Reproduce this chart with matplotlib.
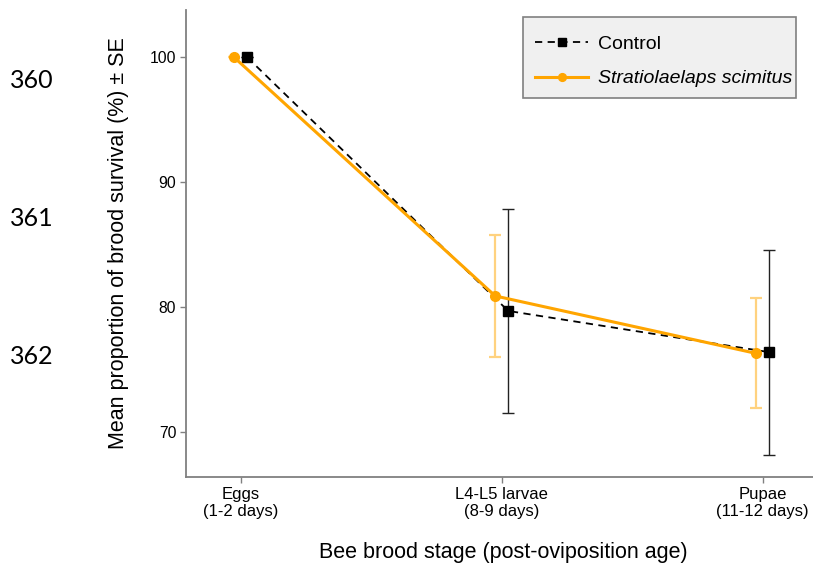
import numpy as np
import matplotlib
matplotlib.use("Agg")
import matplotlib.pyplot as plt
from matplotlib.patches import Rectangle

plt.rcParams['font.family'] = ['Liberation Sans', 'DejaVu Sans']

# values
stages = ["Eggs\n(1-2 days)", "L4-L5 larvae\n(8-9 days)", "Pupae\n(11-12 days)"]
control_mean = [100.0, 79.7, 76.4]
control_se = [0.0, 8.2, 8.2]
stratio_mean = [100.0, 80.9, 76.3]
stratio_se = [0.0, 4.9, 4.4]
line_numbers = ["360", "361", "362"]

x = np.arange(len(stages))
dodge = 0.025

W, H = 813, 564
fig = plt.figure(figsize=(W / 100, H / 100), dpi=100)
ax = fig.add_axes([186 / W, 87 / H, 634 / W, 467 / H])

# error bars first so the lines sit on top
ax.errorbar(x + dodge, control_mean, yerr=control_se, fmt='none',
            ecolor='#222222', elinewidth=1.0, capsize=4.5, capthick=1.0, zorder=2)
ax.errorbar(x - dodge, stratio_mean, yerr=stratio_se, fmt='none',
            ecolor='#FFD27F', elinewidth=1.6, capsize=4.5, capthick=1.6, zorder=2)

ax.plot(x + dodge, control_mean, color='black', linestyle=(0, (4, 3)), lw=1.3,
        marker='s', markersize=7, label='Control', zorder=3)
ax.plot(x - dodge, stratio_mean, color='#FFA500', lw=2.2,
        marker='o', markersize=7, label='Stratiolaelaps scimitus', zorder=4)

ax.set_xlim(-0.21, 2.22)
ax.set_ylim(66.4, 103.8)
ax.set_xticks(x)
ax.set_xticklabels(stages)
ax.set_yticks([70, 80, 90, 100])

for side in ['top', 'right']:
    ax.spines[side].set_visible(False)
for side in ['left', 'bottom']:
    ax.spines[side].set_color('#808080')
    ax.spines[side].set_linewidth(1.3)
ax.tick_params(axis='both', colors='#808080', labelcolor='black',
               length=4, width=1)
ax.tick_params(axis='x', pad=3, labelsize=12)
ax.tick_params(axis='y', pad=3, labelsize=11.3)

ax.set_ylabel('Mean proportion of brood survival (%) ± SE', fontsize=15.5)
ax.yaxis.set_label_coords((129 - 186) / 634, 0.5)
ax.set_xlabel('Bee brood stage (post-oviposition age)', fontsize=15.5, va='top')
ax.xaxis.set_label_coords((503 - 186) / 634, (477 - 542) / 467)

# legend box drawn separately so its padding can match the original
box = Rectangle((523 / W, 1 - 98 / H), 273 / W, 81 / H, transform=fig.transFigure,
                facecolor='#F0F0F0', edgecolor='#808080', lw=1.2, zorder=4)
fig.add_artist(box)

handles, labels = ax.get_legend_handles_labels()
leg = fig.legend(handles, labels, loc='upper left',
                 bbox_to_anchor=(535 / W, 1 - 35 / H), borderaxespad=0,
                 fontsize=14, frameon=False, borderpad=0,
                 handlelength=2.73, handletextpad=0.52, labelspacing=0.88,
                 markerscale=0.8)
leg.set_zorder(6)
leg.get_texts()[1].set_fontstyle('italic')

# manuscript line numbers down the left margin
for txt, ypix in zip(line_numbers, [80, 218, 356]):
    fig.text(10 / W, 1 - ypix / H, txt, fontsize=18, family='Lato',
             va='center', ha='left')

fig.savefig('out.png', dpi=100)
